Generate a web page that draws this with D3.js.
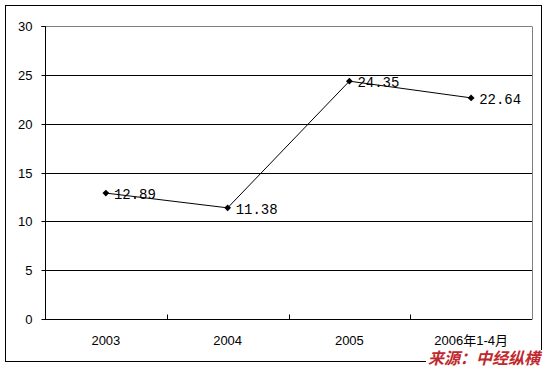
<!DOCTYPE html>
<html><head><meta charset="utf-8">
<script src="https://cdn.jsdelivr.net/npm/d3@7/dist/d3.min.js"></script>
<style>body{margin:0;background:#fff}</style>
</head><body>
<svg id="c" width="551" height="369"></svg>
<script>
const categories = ["2003", "2004", "2005", "2006年1-4月"];
const values = [12.89, 11.38, 24.35, 22.64];
const labels = ["12.89", "11.38", "24.35", "22.64"];
const yTicks = [0, 5, 10, 15, 20, 25, 30];
const source = "来源：中经纵横";

const svg = d3.select("#c");
const L = 45, R = 532, T = 26, B = 319;
const x = d3.scaleBand().domain(categories).range([L, R]);
const y = d3.scaleLinear().domain([0, 30]).range([B, T]);

svg.append("rect").attr("x", 5.5).attr("y", 5.5).attr("width", 536).attr("height", 356)
  .attr("fill", "#fff").attr("stroke", "#000").attr("stroke-width", 1);

// gridlines
svg.append("g").selectAll("line").data(yTicks.filter(d => d > 0)).join("line")
  .attr("x1", L).attr("x2", R)
  .attr("y1", d => Math.round(y(d)) + 0.5).attr("y2", d => Math.round(y(d)) + 0.5)
  .attr("stroke", d => d === 30 ? "#808080" : "#000");
// right plot border
svg.append("line").attr("x1", R + 0.5).attr("x2", R + 0.5).attr("y1", Math.round(y(30)) + 0.5).attr("y2", Math.round(y(0)) + 0.5)
  .attr("stroke", "#808080");

// y axis
const ya = svg.append("g").attr("transform", `translate(${L + 0.5},0.5)`)
  .call(d3.axisLeft(y).tickValues(yTicks).tickSize(4).tickPadding(9).tickFormat(d3.format("d")));
ya.select(".domain").attr("d", `M-4,${Math.round(y(30))}H0V${Math.round(y(0))}`).attr("stroke", "#000");
ya.selectAll(".tick line").attr("stroke", "#000");
ya.selectAll(".tick").attr("transform", d => `translate(0,${Math.round(y(d))})`);
ya.selectAll("text").attr("font-family", "Liberation Sans, Arial, sans-serif").attr("font-size", 13).attr("fill", "#000");

// x axis
const xa = svg.append("g").attr("transform", `translate(0,${Math.round(y(0)) + 0.5})`);
xa.append("line").attr("x1", L).attr("x2", R).attr("stroke", "#000");
xa.selectAll("line.t").data(categories.slice(1)).join("line").attr("class", "t")
  .attr("x1", d => Math.round(x(d)) + 0.5).attr("x2", d => Math.round(x(d)) + 0.5)
  .attr("y1", 0).attr("y2", -5).attr("stroke", "#000");
xa.selectAll("text").data(categories).join("text")
  .attr("x", d => x(d) + x.bandwidth() / 2).attr("y", 25)
  .attr("text-anchor", "middle")
  .attr("font-family", "Liberation Sans, Noto Sans CJK SC, sans-serif").attr("font-size", 13)
  .text(d => d);

// line
const pts = categories.map((c, i) => [x(c) + x.bandwidth() / 2, y(values[i])]);
svg.append("path").attr("d", d3.line()(pts)).attr("fill", "none").attr("stroke", "#000").attr("stroke-width", 1);
svg.append("g").selectAll("path").data(pts).join("path")
  .attr("transform", d => `translate(${d[0]},${d[1]})`)
  .attr("d", d3.symbol(d3.symbolDiamond2, 30)).attr("fill", "#000");
svg.append("g").selectAll("text").data(pts).join("text")
  .attr("x", d => d[0] + 8).attr("y", d => d[1] + 6)
  .attr("font-family", "Liberation Mono, monospace").attr("font-size", 14).attr("fill", "#000")
  .text((d, i) => labels[i]);

// source
svg.append("rect").attr("x", 426).attr("y", 350).attr("width", 120).attr("height", 17).attr("fill", "#fff");
svg.append("text").attr("x", 428).attr("y", 364)
  .attr("font-family", "Noto Sans CJK SC, sans-serif").attr("font-size", 16).attr("font-weight", "bold")
  .attr("font-style", "italic").attr("fill", "#c0282d").text(source);
</script>
</body></html>
